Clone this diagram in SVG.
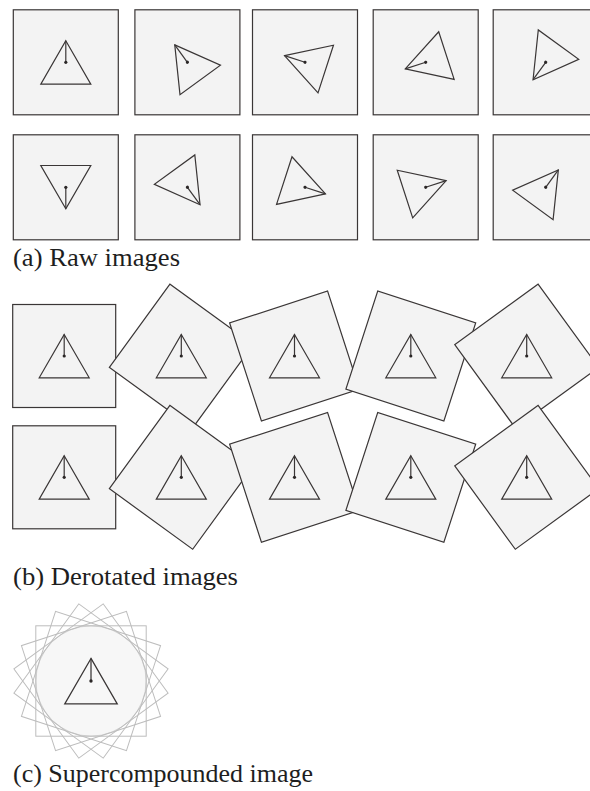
<svg xmlns="http://www.w3.org/2000/svg" xmlns:xlink="http://www.w3.org/1999/xlink" width="590" height="791" viewBox="0 0 590 791">
<style>
.sq{fill:#f3f3f3;stroke:#3a3636;stroke-width:1.2}
.tri{fill:none;stroke:#3a3636;stroke-width:1.2;stroke-linejoin:miter}
.dot{fill:#2a2626}
.ghost{fill:none;stroke:#bdbdbd;stroke-width:1}
.lbl{font-family:"Liberation Serif","DejaVu Serif",serif;font-size:25px;fill:#1e1e1e}
</style>
<defs>
<g id="t">
<polygon class="tri" points="0,-21.5 25,21.8 -25,21.8"/>
<line class="tri" x1="0" y1="-21.5" x2="0" y2="0"/>
<circle class="dot" cx="0" cy="0" r="1.6"/>
</g>
<rect id="sa" class="sq" x="-52.5" y="-52.5" width="105" height="105"/>
<rect id="sb" class="sq" x="-51.5" y="-51.5" width="103" height="103"/>
</defs>
<rect width="590" height="791" fill="#ffffff"/>

<g id="raw">
<g id="a1" transform="translate(65.8,62.3)"><use xlink:href="#sa"/><use xlink:href="#t"/></g>
<g id="a2" transform="translate(187.4,62.3)"><use xlink:href="#sa"/><use xlink:href="#t" transform="rotate(-36)"/></g>
<g id="a3" transform="translate(305,62.3)"><use xlink:href="#sa"/><use xlink:href="#t" transform="rotate(-72)"/></g>
<g id="a4" transform="translate(425.7,62.3)"><use xlink:href="#sa"/><use xlink:href="#t" transform="rotate(-108)"/></g>
<g id="a5" transform="translate(545.7,62.3)"><use xlink:href="#sa"/><use xlink:href="#t" transform="rotate(-144)"/></g>
<g id="a6" transform="translate(65.8,187.3)"><use xlink:href="#sa"/><use xlink:href="#t" transform="rotate(180)"/></g>
<g id="a7" transform="translate(187.4,187.3)"><use xlink:href="#sa"/><use xlink:href="#t" transform="rotate(144)"/></g>
<g id="a8" transform="translate(305,187.3)"><use xlink:href="#sa"/><use xlink:href="#t" transform="rotate(108)"/></g>
<g id="a9" transform="translate(425.7,187.3)"><use xlink:href="#sa"/><use xlink:href="#t" transform="rotate(72)"/></g>
<g id="a10" transform="translate(545.7,187.3)"><use xlink:href="#sa"/><use xlink:href="#t" transform="rotate(36)"/></g>
</g>
<text class="lbl" x="13" y="266" textLength="167" lengthAdjust="spacingAndGlyphs">(a) Raw images</text>

<g id="derotated">
<g id="b1" transform="translate(64.2,356)"><use xlink:href="#sb"/><use xlink:href="#t"/></g>
<g id="b2" transform="translate(181.3,356)"><use xlink:href="#sb" transform="rotate(36)"/><use xlink:href="#t"/></g>
<g id="b3" transform="translate(294.5,356)"><use xlink:href="#sb" transform="rotate(72)"/><use xlink:href="#t"/></g>
<g id="b4" transform="translate(410.8,356)"><use xlink:href="#sb" transform="rotate(108)"/><use xlink:href="#t"/></g>
<g id="b5" transform="translate(526.7,356)"><use xlink:href="#sb" transform="rotate(144)"/><use xlink:href="#t"/></g>
<g id="b6" transform="translate(64.2,477.3)"><use xlink:href="#sb" transform="rotate(180)"/><use xlink:href="#t"/></g>
<g id="b7" transform="translate(181.3,477.3)"><use xlink:href="#sb" transform="rotate(-144)"/><use xlink:href="#t"/></g>
<g id="b8" transform="translate(294.5,477.3)"><use xlink:href="#sb" transform="rotate(-108)"/><use xlink:href="#t"/></g>
<g id="b9" transform="translate(410.8,477.3)"><use xlink:href="#sb" transform="rotate(-72)"/><use xlink:href="#t"/></g>
<g id="b10" transform="translate(526.7,477.3)"><use xlink:href="#sb" transform="rotate(-36)"/><use xlink:href="#t"/></g>
</g>
<text class="lbl" x="13" y="585" textLength="225" lengthAdjust="spacingAndGlyphs">(b) Derotated images</text>

<g id="compound" transform="translate(91,681)">
<circle cx="0" cy="0" r="55.2" fill="#f7f7f7" stroke="#d4d4d4" stroke-width="1"/>
<rect class="ghost" x="-55.2" y="-55.2" width="110.4" height="110.4"/>
<rect class="ghost" x="-55.2" y="-55.2" width="110.4" height="110.4" transform="rotate(18)"/>
<rect class="ghost" x="-55.2" y="-55.2" width="110.4" height="110.4" transform="rotate(36)"/>
<rect class="ghost" x="-55.2" y="-55.2" width="110.4" height="110.4" transform="rotate(-18)"/>
<rect class="ghost" x="-55.2" y="-55.2" width="110.4" height="110.4" transform="rotate(-36)"/>
<g transform="scale(1.05)"><use xlink:href="#t"/></g>
</g>
<text class="lbl" x="13" y="782" textLength="300" lengthAdjust="spacingAndGlyphs">(c) Supercompounded image</text>
</svg>
